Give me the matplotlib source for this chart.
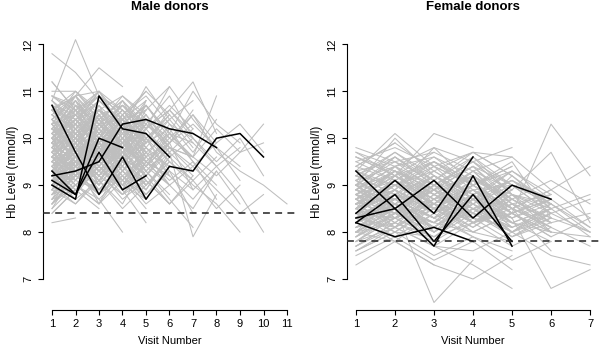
import matplotlib
matplotlib.use("Agg")
import matplotlib.pyplot as plt

plt.rcParams['font.family'] = ['Liberation Sans', 'DejaVu Sans']

# ---------------- data ----------------
male_threshold = 8.4
female_threshold = 7.8
y_ticks = [7, 8, 9, 10, 11, 12]
male_x_ticks = [1, 2, 3, 4, 5, 6, 7, 8, 9, 10, 11]
female_x_ticks = [1, 2, 3, 4, 5, 6, 7]

male_highlight = [
    [10.7, 9.7, 8.8, 9.6, 8.7, 9.4, 9.3, 10.0, 10.1, 9.6],
    [9.0, 8.7, 10.9, 10.2, 10.1, 9.6],
    [9.1, 8.8, 10.0, 9.8],
    [9.3, 8.8, 9.7, 8.9, 9.2],
    [9.2, 9.3, 9.5, 10.3, 10.4, 10.2, 10.1, 9.8],
]

female_highlight = [
    [9.3, 8.5, 7.7, 9.2, 7.7],
    [8.4, 9.1, 8.4, 9.6],
    [8.2, 8.8, 7.8, 8.8, 7.8],
    [8.3, 8.5, 9.1, 8.3, 9.0, 8.7],
    [8.2, 7.9, 8.1, 7.8],
]

male_grey = [
    [9.8, 10.2, 9.6, 10.1, 9.4, 9.9, 10.5, 9.7, 9.3, 9.0, 8.6],
    [10.4, 9.9, 10.6, 10.0, 10.5, 9.8, 9.6, 10.2, 9.7, 10.3],
    [9.3, 9.8, 9.1, 9.7, 9.2, 9.9, 8.9, 9.4, 8.8, 8.0],
    [10.1, 10.7, 10.2, 9.6, 10.3, 10.9, 10.0, 9.5, 10.0, 9.2],
    [9.6, 10.0, 9.5, 9.9, 9.4, 10.1, 9.6, 9.2, 9.7, 9.9],
    [10.2, 9.8, 10.3, 9.9, 10.4, 10.0, 10.5, 9.9, 10.3, 9.7],
    [9.4, 9.7, 9.2, 9.8, 9.5, 9.0, 9.4, 8.9, 8.4, 8.8],
    [9.6, 9.1, 9.9, 9.3, 10.0, 9.5, 9.0, 8.6, 8.0],
    [10.8, 10.3, 11.0, 10.4, 10.6, 11.1, 10.4, 9.8, 9.4],
    [9.0, 9.6, 9.2, 8.8, 9.5, 9.2, 8.7, 9.3, 8.6],
    [10.0, 9.4, 10.3, 9.9, 10.7, 10.1, 11.0, 10.3, 9.9],
    [9.4, 9.9, 10.5, 9.6, 9.2, 8.6, 9.1, 8.5, 9.0],
    [9.8, 9.6, 10.3, 9.9, 9.4, 9.9, 10.3, 9.8, 9.1],
    [10.2, 10.1, 10.6, 10.3, 10.7, 10.1, 9.9, 9.4, 9.8],
    [9.7, 10.2, 9.5, 10.0, 9.3, 9.8, 9.6, 10.9],
    [10.3, 9.8, 9.4, 10.1, 9.7, 9.0, 8.5, 9.3],
    [9.2, 8.8, 9.6, 9.0, 9.4, 10.2, 9.5, 8.7],
    [10.6, 11.0, 10.4, 10.8, 10.2, 10.6, 11.2, 10.1],
    [9.5, 9.0, 8.6, 9.3, 8.9, 9.7, 7.9, 8.8],
    [10.0, 10.5, 9.9, 10.4, 9.6, 10.3, 10.0, 9.4],
    [8.9, 9.4, 9.8, 9.2, 9.6, 9.1, 9.5, 9.0],
    [10.3, 10.6, 9.9, 10.5, 10.9, 10.3, 9.7, 10.4],
    [9.6, 9.0, 9.4, 10.0, 9.3, 9.8, 9.4, 9.9],
    [9.5, 9.3, 9.9, 9.6, 9.0, 9.5, 9.1, 9.6],
    [9.8, 9.3, 10.0, 9.5, 10.4, 9.7, 10.2],
    [10.2, 10.8, 10.1, 10.6, 10.0, 10.5, 9.9],
    [9.1, 9.6, 8.9, 9.4, 8.8, 9.3, 8.4],
    [10.5, 10.0, 10.7, 10.2, 11.1, 10.4, 10.8],
    [9.4, 8.9, 9.3, 8.7, 9.1, 8.6, 9.2],
    [9.9, 10.4, 9.7, 10.3, 9.5, 10.0, 9.6],
    [11.2, 10.6, 10.9, 10.3, 10.7, 10.1, 9.5],
    [9.6, 10.1, 9.4, 9.9, 9.3, 8.7, 8.1],
    [8.7, 9.2, 8.8, 9.5, 9.0, 9.6, 9.1],
    [10.3, 9.7, 10.2, 9.8, 10.5, 9.9, 10.6],
    [10.1, 10.9, 10.0, 10.8, 9.9, 10.6, 10.1],
    [9.0, 9.9, 10.4, 9.5, 10.1, 9.7, 9.2],
    [10.2, 10.8, 9.8, 9.4, 10.2, 10.6, 10.0],
    [10.9, 10.6, 10.2, 10.6, 10.0, 10.4, 9.8],
    [9.3, 9.1, 9.7, 9.2, 8.8, 9.3, 8.9],
    [9.4, 9.6, 9.1, 9.7, 10.2, 9.6, 10.0],
    [10.3, 10.5, 10.1, 9.7, 10.2, 10.7, 10.2],
    [9.3, 9.5, 10.0, 9.6, 9.2, 9.8, 9.3],
    [9.5, 10.0, 9.6, 10.2, 9.8, 10.4],
    [10.1, 9.5, 10.3, 9.7, 10.0, 9.3],
    [9.0, 9.5, 9.1, 9.7, 9.3, 8.8],
    [10.7, 10.2, 10.8, 10.4, 11.0, 10.5],
    [9.3, 8.8, 9.4, 9.0, 9.6, 9.9],
    [9.9, 10.5, 10.0, 9.4, 10.1, 9.5],
    [8.8, 9.3, 8.7, 9.2, 8.6, 9.0],
    [10.4, 10.9, 10.3, 10.7, 10.2, 11.1],
    [9.7, 9.2, 9.9, 9.5, 9.1, 8.6],
    [9.2, 9.7, 10.1, 9.6, 10.3, 9.8],
    [10.0, 9.6, 9.2, 9.8, 9.4, 9.0],
    [8.6, 9.1, 8.9, 9.3, 8.8, 9.4],
    [9.5, 10.3, 9.4, 10.0, 9.2, 9.7],
    [10.0, 9.2, 9.9, 9.1, 9.8, 9.4],
    [9.2, 10.0, 9.3, 9.8, 9.0, 9.5],
    [9.7, 10.6, 9.6, 10.5, 9.7, 10.1],
    [9.4, 8.8, 9.8, 8.9, 10.0, 9.2],
    [10.7, 10.1, 9.6, 10.2, 9.5, 9.9],
    [9.3, 10.2, 9.5, 10.3, 10.7, 10.0],
    [9.4, 10.1, 9.7, 10.4, 9.8, 9.2],
    [9.2, 8.7, 9.1, 8.6, 9.5, 9.0],
    [8.5, 9.3, 8.8, 9.3, 8.9, 9.6],
    [10.4, 9.7, 9.3, 9.9, 10.4, 9.8],
    [10.6, 10.4, 10.0, 10.5, 9.9, 10.2],
    [10.0, 9.8, 10.5, 10.7, 10.3, 9.9],
    [9.7, 9.9, 10.4, 9.9, 9.5, 9.2],
    [10.1, 10.3, 9.9, 10.4, 9.9, 10.5],
    [9.6, 9.4, 9.8, 9.3, 9.7, 9.4],
    [9.6, 10.1, 9.7, 10.3, 9.9],
    [10.2, 9.7, 10.4, 9.8, 10.6],
    [9.1, 9.5, 9.0, 9.6, 9.2],
    [10.8, 10.4, 10.9, 10.5, 11.0],
    [9.4, 9.9, 9.5, 10.0, 9.6],
    [8.9, 9.3, 8.8, 9.2, 8.7],
    [10.0, 10.6, 10.1, 10.7, 10.2],
    [9.8, 9.3, 9.9, 9.4, 10.1],
    [9.3, 9.8, 9.4, 8.9, 9.5],
    [10.5, 10.0, 10.6, 10.1, 10.4],
    [8.5, 9.0, 8.6, 9.1, 8.8],
    [9.7, 10.2, 9.6, 10.0, 9.5],
    [10.3, 10.9, 10.4, 10.8, 10.3],
    [9.0, 8.6, 9.2, 8.8, 9.3],
    [9.9, 9.5, 10.1, 9.7, 10.2],
    [11.0, 11.0, 10.6, 10.9, 10.5],
    [9.2, 9.7, 9.3, 9.9, 9.4],
    [10.1, 9.6, 10.0, 9.5, 9.9],
    [8.7, 9.2, 9.6, 9.1, 8.5],
    [9.5, 10.0, 9.8, 10.4, 10.0],
    [10.6, 10.1, 10.5, 10.0, 10.7],
    [9.4, 8.9, 9.5, 9.1, 9.7],
    [8.4, 8.9, 9.4, 8.9, 8.2],
    [10.4, 10.8, 10.3, 10.9, 10.4],
    [9.8, 10.3, 9.9, 9.5, 9.1],
    [8.9, 9.9, 9.0, 10.2, 9.1],
    [10.3, 9.4, 10.5, 9.6, 10.8],
    [10.6, 9.9, 10.7, 9.8, 10.3],
    [8.7, 9.5, 8.6, 9.6, 8.9],
    [10.4, 9.6, 10.2, 9.3, 9.9],
    [9.8, 10.7, 9.9, 10.4, 9.6],
    [8.6, 9.4, 9.9, 9.0, 9.6],
    [9.9, 9.1, 9.7, 10.5, 9.8],
    [9.1, 9.9, 9.3, 9.0, 9.7],
    [10.5, 10.9, 11.0, 10.2, 10.6],
    [8.8, 9.6, 9.2, 9.9, 9.4],
    [10.0, 10.7, 10.3, 9.7, 10.4],
    [10.8, 10.2, 10.6, 9.9, 10.1],
    [9.7, 9.2, 10.0, 10.6, 10.0],
    [9.9, 10.8, 10.2, 10.7, 10.1],
    [9.0, 9.4, 10.0, 9.4, 9.0],
    [9.5, 9.8, 9.0, 9.6, 9.9],
    [10.1, 10.4, 10.8, 10.3, 9.7],
    [8.9, 8.6, 9.1, 8.5, 9.0],
    [9.6, 10.4, 10.6, 10.1, 10.8],
    [10.2, 10.0, 9.5, 9.1, 9.6],
    [9.1, 9.3, 9.8, 10.2, 9.7],
    [8.6, 9.2, 9.5, 9.0, 8.7],
    [10.5, 10.2, 9.7, 10.0, 10.5],
    [9.2, 9.4, 8.9, 9.5, 9.8],
    [9.0, 9.2, 9.6, 9.9, 9.3],
    [10.9, 10.7, 10.3, 10.4, 10.8],
    [8.8, 9.0, 9.4, 8.8, 9.1],
    [9.9, 9.7, 9.3, 9.8, 10.3],
    [10.7, 10.5, 10.9, 10.6, 10.2],
    [8.7, 8.9, 9.3, 9.7, 9.2],
    [9.5, 10.0, 9.6, 10.2],
    [10.2, 9.8, 10.5, 10.0],
    [9.0, 9.5, 9.1, 9.6],
    [10.9, 10.5, 11.0, 10.6],
    [9.3, 9.7, 9.2, 9.8],
    [8.8, 9.2, 8.9, 9.4],
    [10.0, 10.4, 9.9, 10.5],
    [9.7, 9.3, 9.8, 9.4],
    [11.8, 11.4, 10.8, 10.3],
    [9.2, 9.6, 10.1, 9.5],
    [10.4, 10.0, 10.6, 10.2],
    [8.6, 9.0, 8.7, 8.0],
    [9.9, 10.3, 9.8, 10.3],
    [10.6, 10.9, 11.5, 11.1],
    [9.4, 9.0, 9.5, 9.1],
    [9.6, 10.1, 9.7],
    [10.1, 9.6, 10.2],
    [9.1, 9.6, 9.2],
    [10.7, 10.3, 10.8],
    [9.4, 9.8, 9.3],
    [8.9, 9.4, 9.0],
    [11.2, 10.6, 11.0],
    [9.8, 9.4, 9.9],
    [10.3, 11.0, 10.5],
    [8.4, 8.9, 8.5],
    [9.9, 10.4, 9.8],
    [10.8, 12.1, 10.9],
    [9.7, 10.2],
    [10.2, 9.7],
    [9.0, 9.6],
    [10.5, 10.0],
    [9.3, 9.9],
    [8.2, 8.3],
    [10.0, 10.5],
    [9.5, 9.0],
    [10.6, 10.9],
    [8.8, 9.3],
]

female_grey = [
    [8.6, 9.1, 8.7, 9.2, 8.5, 8.9, 9.4],
    [8.2, 8.7, 8.3, 8.8, 8.1, 8.5, 7.9],
    [9.0, 8.5, 9.2, 8.6, 9.0, 8.4, 8.7],
    [8.4, 8.9, 8.0, 8.5, 7.9, 8.3, 8.0],
    [8.8, 9.3, 8.9, 9.4, 8.7, 9.1, 8.6],
    [7.9, 8.4, 8.1, 8.6, 8.0, 7.5, 7.3],
    [8.5, 8.0, 8.6, 8.2, 8.4, 10.3, 9.2],
    [9.2, 9.6, 9.0, 9.5, 8.8, 8.2, 8.4],
    [8.1, 8.6, 8.2, 8.7, 8.3, 6.8, 7.2],
    [8.7, 8.2, 8.8, 8.3, 8.9, 9.7, 8.2],
    [8.3, 8.8, 8.5, 8.1, 8.6, 8.0, 7.9],
    [9.5, 9.8, 9.4, 9.7, 9.2, 8.6, 8.1],
    [9.3, 9.5, 8.9, 9.6, 8.8, 8.4, 8.0],
    [8.1, 8.3, 8.9, 8.2, 8.6, 8.1, 7.7],
    [8.4, 8.6, 8.2, 9.0, 8.4, 7.9, 8.3],
    [9.1, 9.4, 9.6, 9.0, 8.5, 8.9, 8.3],
    [8.6, 8.9, 8.4, 8.9, 8.2, 8.5, 8.8],
    [8.4, 8.3, 8.7, 8.2, 8.4, 8.7, 8.1],
    [8.7, 9.3, 8.8, 8.5, 8.3, 8.6, 8.0],
    [8.6, 9.0, 8.5, 8.9, 8.4, 8.8],
    [8.0, 8.5, 8.1, 8.6, 8.2, 7.8],
    [9.1, 8.7, 9.3, 8.8, 9.1, 8.5],
    [8.3, 8.8, 8.4, 8.9, 8.5, 8.1],
    [8.9, 9.4, 8.8, 9.2, 8.6, 8.3],
    [7.7, 8.2, 7.9, 8.4, 8.0, 8.5],
    [8.5, 9.0, 8.6, 8.1, 8.7, 8.2],
    [9.3, 8.9, 9.5, 9.0, 9.3, 8.8],
    [8.2, 8.6, 8.0, 8.5, 7.9, 8.4],
    [8.8, 8.3, 8.7, 8.2, 8.8, 8.6],
    [7.9, 8.3, 8.6, 8.2, 8.5, 7.6],
    [9.6, 9.2, 9.7, 9.3, 9.6, 8.9],
    [8.4, 8.0, 8.5, 8.9, 8.3, 8.7],
    [8.7, 9.2, 8.6, 8.0, 8.4, 7.9],
    [8.1, 8.5, 8.9, 8.4, 8.0, 8.6],
    [9.0, 9.5, 9.1, 9.6, 9.0, 8.4],
    [7.6, 8.0, 7.5, 7.9, 7.4, 7.8],
    [8.5, 8.9, 9.8, 9.0, 9.5, 8.3],
    [8.6, 9.3, 8.5, 9.1, 8.4, 8.7],
    [9.0, 8.3, 9.1, 8.4, 9.2, 8.5],
    [7.9, 8.6, 7.8, 8.7, 8.0, 8.3],
    [8.4, 9.0, 9.4, 8.7, 8.2, 8.0],
    [9.1, 9.7, 9.2, 8.8, 9.3, 8.7],
    [8.7, 8.4, 9.0, 8.5, 8.1, 8.4],
    [8.9, 9.6, 9.0, 9.5, 9.0, 8.6],
    [8.6, 8.7, 8.1, 8.8, 8.2, 8.5],
    [8.8, 9.1, 8.6, 9.0, 8.5, 8.2],
    [9.0, 9.2, 8.7, 9.3, 8.6, 8.8],
    [8.5, 8.4, 8.9, 8.6, 9.1, 8.6],
    [8.2, 8.5, 8.9, 9.2, 8.7, 8.3],
    [8.7, 9.0, 8.5, 8.3, 8.8, 8.0],
    [8.3, 8.1, 8.6, 8.4, 7.9, 8.2],
    [8.1, 8.4, 8.0, 8.5, 8.7, 8.2],
    [7.8, 8.4, 8.2, 8.0, 8.4, 8.0],
    [9.2, 8.8, 8.5, 9.0, 8.5, 8.1],
    [8.5, 8.8, 9.2, 8.8, 8.4, 8.0],
    [9.0, 8.8, 8.6, 9.1, 8.8, 8.5],
    [8.3, 8.6, 8.3, 8.6, 8.0, 8.4],
    [9.3, 9.0, 9.3, 8.8, 9.1, 8.7],
    [7.6, 8.0, 7.9, 8.2, 7.7, 8.1],
    [8.7, 9.2, 8.8, 9.3, 8.9],
    [8.2, 8.6, 8.1, 8.7, 8.3],
    [9.1, 8.6, 9.2, 8.7, 9.1],
    [8.4, 8.9, 8.5, 9.0, 8.4],
    [8.9, 9.4, 9.0, 9.5, 8.8],
    [7.8, 8.3, 7.9, 8.5, 8.1],
    [8.6, 8.1, 8.7, 8.2, 8.6],
    [9.4, 9.9, 9.3, 9.7, 9.2],
    [8.0, 8.5, 8.2, 8.7, 8.0],
    [8.8, 8.4, 9.0, 8.5, 8.9],
    [8.3, 8.7, 8.3, 7.9, 7.6],
    [9.7, 9.4, 9.8, 9.5, 9.8],
    [8.5, 9.0, 8.6, 9.2, 8.5],
    [7.5, 7.9, 7.4, 7.8, 7.2],
    [9.2, 8.8, 9.4, 9.0, 9.4],
    [8.1, 8.6, 7.7, 7.3, 6.8],
    [8.9, 9.3, 8.9, 8.4, 8.2],
    [8.4, 7.9, 8.4, 8.8, 8.3],
    [9.0, 9.6, 9.1, 9.7, 9.6],
    [7.3, 7.8, 7.3, 7.0, 7.5],
    [8.2, 8.9, 8.0, 8.8, 8.1],
    [8.5, 9.4, 8.6, 9.3, 8.5],
    [8.8, 8.1, 9.0, 8.2, 8.7],
    [8.0, 8.8, 8.3, 9.1, 8.4],
    [8.3, 9.2, 8.7, 8.9, 8.2],
    [9.5, 9.1, 9.6, 9.2, 8.7],
    [7.8, 8.1, 8.5, 8.0, 7.8],
    [9.2, 9.0, 9.5, 8.9, 9.0],
    [8.0, 8.2, 7.8, 8.3, 7.8],
    [9.6, 9.3, 9.0, 9.4, 9.0],
    [7.7, 8.1, 7.7, 7.6, 8.0],
    [8.9, 8.7, 9.2, 8.7, 9.3],
    [9.4, 9.1, 9.5, 9.1, 8.7],
    [8.8, 8.6, 8.9, 9.4, 8.6],
    [9.7, 9.2, 9.5, 9.0, 9.4],
    [8.0, 8.4, 8.6, 8.3, 8.1],
    [8.6, 9.1, 8.7, 9.2],
    [8.1, 8.6, 8.2, 8.7],
    [9.0, 8.5, 9.1, 8.6],
    [8.4, 8.9, 8.5, 9.0],
    [8.8, 9.3, 8.9, 9.4],
    [7.9, 8.4, 8.0, 8.6],
    [9.3, 10.1, 9.4, 9.0],
    [8.3, 7.8, 8.4, 7.9],
    [8.7, 9.2, 8.8, 8.3],
    [9.6, 9.2, 10.1, 9.8],
    [8.0, 8.5, 6.5, 7.4],
    [8.9, 8.5, 9.0, 8.6],
    [8.2, 8.7, 8.3, 8.8],
    [7.6, 8.1, 7.7, 8.2],
    [8.5, 9.0, 8.6],
    [8.9, 8.4, 9.0],
    [8.2, 8.7, 8.3],
    [9.2, 9.7, 9.1],
    [7.8, 8.3, 7.9],
    [8.7, 8.2, 8.8],
    [9.8, 9.5, 9.7],
    [8.4, 8.9, 8.4],
    [8.0, 7.8, 7.3],
    [9.0, 10.0, 9.2],
    [8.6, 9.1],
    [8.3, 8.8],
    [9.1, 8.6],
    [7.7, 8.2],
    [8.8, 9.3],
    [9.4, 9.9],
]

# ---------------- figure ----------------
W, H = 600, 348
fig = plt.figure(figsize=(W / 100, H / 100), dpi=100)

GREY = '#bebebe'


def panel(rect_px, xlim, xticks, grey, highlight, thresh, title):
    l, r, top, bot = rect_px
    ax = fig.add_axes([l / W, (H - bot) / H, (r - l) / W, (bot - top) / H])
    for s in grey:
        ax.plot(range(1, len(s) + 1), s, color=GREY, lw=0.75,
                solid_joinstyle='round', zorder=1)
    for s in highlight:
        ax.plot(range(1, len(s) + 1), s, color='black', lw=1.1, zorder=3)
    ax.axhline(thresh, color='#222222', lw=1.1, ls=(0, (4.5, 3.5)), zorder=4)
    ax.set_xlim(*xlim)
    ax.set_ylim(6.34, 12.22)
    for s in ['top', 'right']:
        ax.spines[s].set_visible(False)
    ax.spines['left'].set_bounds(7, 12)
    ax.spines['bottom'].set_bounds(xticks[0], xticks[-1])
    for s in ['left', 'bottom']:
        ax.spines[s].set_linewidth(0.8)
    ax.set_yticks(y_ticks)
    ax.set_yticklabels([str(v) for v in y_ticks], rotation=90, va='center')
    ax.set_xticks(xticks)
    ax.set_xticklabels([str(v) for v in xticks])
    ax.tick_params(axis='both', direction='out', length=3.8, width=0.8,
                   labelsize=8, pad=3)
    ax.set_xlabel('Visit Number', fontsize=8, labelpad=5)
    ax.set_ylabel('Hb Level (mmol/l)', fontsize=8.5, labelpad=3)
    fig.text((l + r) / 2 / W, 1 - 7 / H, title, ha='center', va='center',
             fontsize=9.5, fontweight='bold')
    return ax


panel((42.6, 296.4, 34, 310), (0.6, 11.4), male_x_ticks, male_grey,
      male_highlight, male_threshold, 'Male donors')
panel((346.6, 599.4, 34, 310), (0.76, 7.24), female_x_ticks, female_grey,
      female_highlight, female_threshold, 'Female donors')

fig.savefig('out.png', dpi=100)
